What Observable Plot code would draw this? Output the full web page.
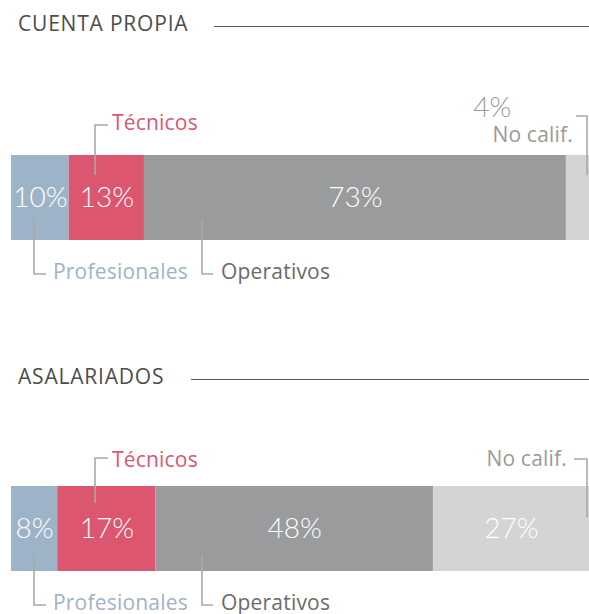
<!DOCTYPE html>
<html><head><meta charset="utf-8">
<script src="https://cdn.jsdelivr.net/npm/d3@7"></script>
<script src="https://cdn.jsdelivr.net/npm/@observablehq/plot@0.6"></script>
<style>
body{margin:0;background:#fff;}
#chart{position:relative;width:589px;height:614px;overflow:hidden;font-family:"Open Sans",sans-serif;}
.title{position:absolute;left:18px;font-size:21px;line-height:21px;color:#4d4d4d;letter-spacing:0.8px;white-space:nowrap;}
.rule{position:absolute;right:0;height:1px;background:#555;}
.plot{position:absolute;left:0;}
</style></head><body><div id="chart"></div>
<script>
// ---- data ----
const categories = ["Profesionales", "Técnicos", "Operativos", "No calif."];
const groupNames = ["CUENTA PROPIA", "ASALARIADOS"];
const cuentaPropiaValues = [10, 13, 73, 4];
const asalariadosValues = [8, 17, 48, 27];

// ---- styles ----
const barColors = ["#9db4c8", "#dc5670", "#9a9b9d", "#d3d5d4"];
const labelColors = ["#9db4c8", "#dc5670", "#6b6b6b", "#9a9a9a"];
const lineColor = "#a9a9a9";
const FONT = "'Open Sans', sans-serif";
const PCT_FONT = "Lato, 'Open Sans', sans-serif";

// ---- layout (page pixels) ----
const layouts = [
  {
    titleTop: 13, ruleTop: 26, ruleLeft: 214, svgTop: 45, height: 245, marginTop: 110, marginBottom: 50,
    separator: false,
    ann: [
      {pts: [[46,274],[34,274],[34,220]], tx: 53, ty: 279, anchor: "start"},
      {pts: [[108,125],[95,125],[95,175]], tx: 112, ty: 130, anchor: "start"},
      {pts: [[213,274],[202,274],[202,220]], tx: 221, ty: 279, anchor: "start"},
      {pts: [[576,116],[587,116],[587,175]], tx: 573, ty: 142, anchor: "end", pctAbove: true, pctY: 117}
    ]
  },
  {
    titleTop: 366, ruleTop: 379, ruleLeft: 191, svgTop: 395, height: 219, marginTop: 91, marginBottom: 43,
    separator: true,
    ann: [
      {pts: [[46,605],[34,605],[34,555]], tx: 53, ty: 610, anchor: "start"},
      {pts: [[108,458],[95,458],[95,503]], tx: 112, ty: 467, anchor: "start"},
      {pts: [[213,605],[202,605],[202,555]], tx: 221, ty: 610, anchor: "start"},
      {pts: [[574,459],[587,459],[587,517]], tx: 567, ty: 466, anchor: "end"}
    ]
  }
];

const chart = document.getElementById("chart");
const seriesValues = [cuentaPropiaValues, asalariadosValues];

groupNames.forEach((name, gi) => {
  const L = layouts[gi];
  const values = seriesValues[gi];
  const rows = categories.map((c, i) => ({group: name, cat: c, value: values[i]}));
  const cum = d3.cumsum(values);

  const t = document.createElement("div");
  t.className = "title"; t.style.top = L.titleTop + "px"; t.textContent = name;
  chart.appendChild(t);
  const r = document.createElement("div");
  r.className = "rule"; r.style.top = L.ruleTop + "px"; r.style.left = L.ruleLeft + "px";
  chart.appendChild(r);

  const marks = [
    Plot.barX(rows, Plot.stackX({x: "value", y: "group", fill: "cat"}))
  ];
  if (L.separator) marks.push(Plot.ruleX([cum[2]], {x: d => d, y: () => name, stroke: "white", strokeWidth: 2}));
  marks.push(Plot.text(rows, Plot.stackX({
    x: "value", y: "group", text: d => d.value + "%",
    filter: d => d.value >= 5,
    fill: "white", fontSize: 28, fontWeight: 300, fontFamily: PCT_FONT
  })));

  const plot = Plot.plot({
    width: 589, height: L.height,
    marginLeft: 11, marginRight: 0, marginTop: L.marginTop, marginBottom: L.marginBottom,
    x: {domain: [0, 100], axis: null},
    y: {domain: [name], axis: null, padding: 0},
    color: {domain: categories, range: barColors},
    style: {fontFamily: FONT, background: "transparent", overflow: "visible"},
    marks
  });
  plot.classList.add("plot");
  plot.style.top = L.svgTop + "px";
  chart.appendChild(plot);

  const svg = d3.select(plot);
  const g = svg.append("g").attr("transform", `translate(0,${-L.svgTop})`);
  L.ann.forEach((a, i) => {
    g.append("path")
      .attr("d", d3.line()(a.pts))
      .attr("fill", "none").attr("stroke", lineColor).attr("stroke-width", 1.6);
    const txt = g.append("text")
      .attr("x", a.tx).attr("y", a.ty)
      .attr("text-anchor", a.anchor)
      .attr("fill", labelColors[i])
      .attr("font-family", FONT).attr("font-size", 21).attr("font-weight", 400)
      .attr("letter-spacing", 0.2)
      .text(categories[i]);
    if (a.pctAbove) {
      const bb = txt.node().getBBox();
      g.append("text")
        .attr("x", bb.x).attr("y", a.pctY)
        .attr("fill", labelColors[i])
        .attr("font-family", PCT_FONT).attr("font-size", 28).attr("font-weight", 300)
        .text(values[i] + "%");
    }
  });
});
</script></body></html>
